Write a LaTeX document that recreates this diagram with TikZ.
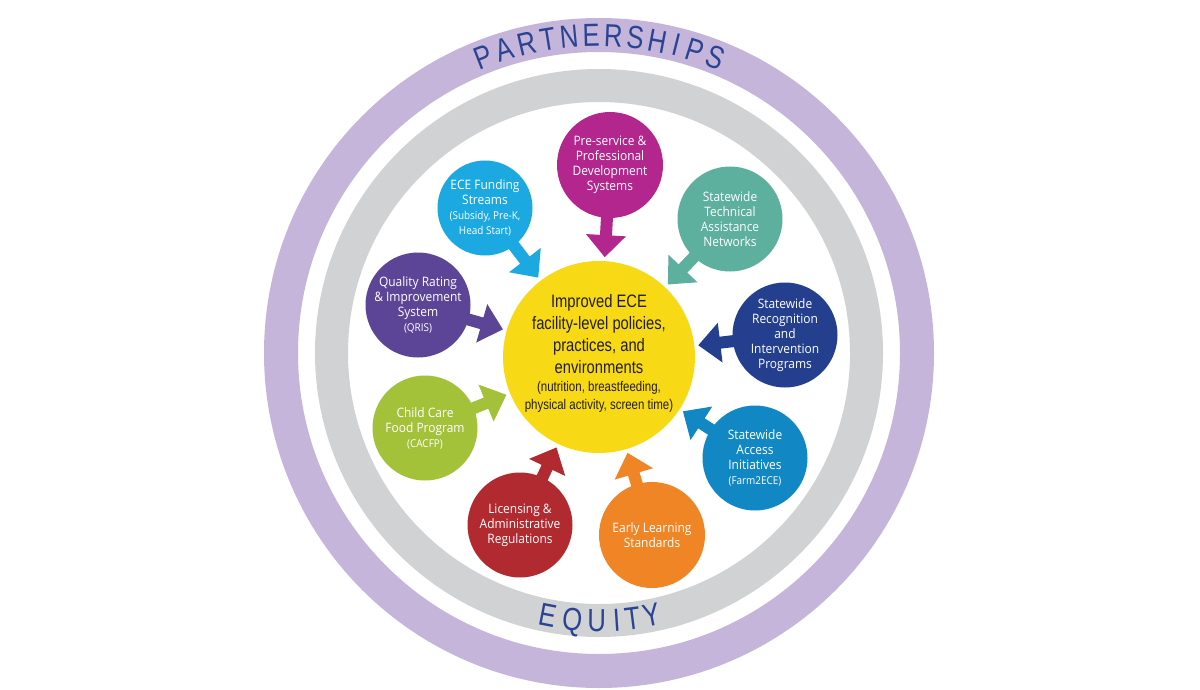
\documentclass[tikz,border=0pt]{standalone}
\usepackage{fontspec}
\setmainfont{Open Sans}
\newfontfamily\satfont{Open Sans}[FakeStretch=0.92]
\newfontfamily\ctrfont{Liberation Sans}[FakeStretch=0.82]
\newfontfamily\ringfont{Liberation Sans}[FakeStretch=0.80]
\usetikzlibrary{calc}
\pgfdeclarelayer{bg}
\pgfdeclarelayer{arrows}
\pgfsetlayers{bg,arrows,main}
\definecolor{ringP}{HTML}{C5B5DA}
\definecolor{ringG}{HTML}{D1D2D3}
\definecolor{txtB}{HTML}{2A4494}
\definecolor{cYel}{HTML}{F7D916}
\definecolor{cMag}{HTML}{B2268D}
\definecolor{cCyan}{HTML}{1CA9E1}
\definecolor{cTeal}{HTML}{5DB09E}
\definecolor{cNavy}{HTML}{233F8E}
\definecolor{cAcc}{HTML}{1187C3}
\definecolor{cOrg}{HTML}{EF8525}
\definecolor{cRed}{HTML}{B02A2F}
\definecolor{cGrn}{HTML}{A4C13A}
\definecolor{cPur}{HTML}{5C4597}
\definecolor{cTxt}{HTML}{231F20}
\newcommand{\feed}[2]{%
  \coordinate (#1-b) at ($(ctr.center)!122pt!(#1.center)$);
  \coordinate (#1-t) at ($(ctr.center)!100pt!(#1.center)$);
  \fill[#2] ($(#1.center)!6pt!90:(#1-b)$) -- ($(#1-b)!6pt!-90:(#1.center)$)
    -- ($(#1-b)!20pt!-90:(#1.center)$) -- (#1-t)
    -- ($(#1-b)!20pt!90:(#1.center)$) -- ($(#1-b)!6pt!90:(#1.center)$)
    -- ($(#1.center)!6pt!-90:(#1-b)$) -- cycle;}
\newcommand{\sm}{\fontsize{10.8}{13}\selectfont}
\tikzset{
  sat/.style={circle, inner sep=0pt, minimum size=105pt, text=white, align=center,
    font=\satfont\fontsize{13}{15}\selectfont},
  ringletter/.style={font=\ringfont\fontsize{32}{32}\selectfont, text=txtB,
    inner sep=0pt, text height=23pt, text depth=0pt, anchor=center},
}
\begin{document}
\begin{tikzpicture}[x=1pt,y=-1pt]
\begin{pgfonlayer}{bg}
\fill[white] (0,0) rectangle (1200,690);
\end{pgfonlayer}
\useasboundingbox (0,0) rectangle (1200,690);
\coordinate (o) at (599,353);
\draw[ringP, line width=34pt] (o) circle[radius=318pt];
\draw[ringG, line width=33pt] (o) circle[radius=267.5pt];
% ring texts
\foreach \l/\a [count=\i] in {P/-21.4, A/-17.3, R/-13.2, T/-9.3, N/-5.4, E/-1.4, R/2.6, S/6.6, H/10.7, I/14.1, P/17.5, S/21.6}
  \node[ringletter, rotate=-\a] (pl\i) at ($(o)+(90-\a:318pt)$) {\l};
\foreach \l/\a [count=\i] in {E/-11.0, Q/-5.7, U/-0.5, I/3.8, T/7.2, Y/11.3}
  \node[ringletter, rotate=\a] (eq\i) at ($(o)+(-90+\a:267pt)$) {\l};
% centre
\node[circle, fill=cYel, minimum size=192pt, inner sep=0pt] (ctr) at (599,357) {};
\node[align=center, text=cTxt, font=\ctrfont\fontsize{18}{22}\selectfont] (ctrtxt) at (599,353)
  {Improved ECE\\facility-level policies,\\practices, and\\environments\\[-4pt]
   {\fontsize{14}{16}\selectfont(nutrition, breastfeeding,}\\[-4pt]
   {\fontsize{14}{16}\selectfont physical activity, screen time)}};
% satellites
\node[sat, fill=cMag, minimum size=106pt] (pre) at (610,165) {Pre-service \&\\Professional\\Development\\Systems};
\node[sat, fill=cCyan, minimum size=95pt] (fund) at (485,208) {ECE Funding\\Streams\\{\sm(Subsidy, Pre-K,}\\{\sm Head Start)}};
\node[sat, fill=cTeal] (tech) at (730,219) {Statewide\\Technical\\Assistance\\Networks};
\node[sat, fill=cNavy] (recog) at (785,335) {Statewide\\Recognition\\and\\Intervention\\Programs};
\node[sat, fill=cAcc] (acc) at (755,458) {Statewide\\Access\\Initiatives\\{\sm(Farm2ECE)}};
\node[sat, fill=cOrg, minimum size=106pt] (early) at (652,535) {Early Learning\\Standards};
\node[sat, fill=cRed] (lic) at (520,525) {Licensing \&\\Administrative\\Regulations};
\node[sat, fill=cGrn] (food) at (425,428) {Child Care\\Food Program\\{\sm(CACFP)}};
\node[sat, fill=cPur] (qris) at (418,305) {Quality Rating\\\& Improvement\\System\\{\sm(QRIS)}};
\begin{pgfonlayer}{arrows}
\feed{pre}{cMag}
\feed{fund}{cCyan}
\feed{tech}{cTeal}
\feed{recog}{cNavy}
\feed{acc}{cAcc}
\feed{early}{cOrg}
\feed{lic}{cRed}
\feed{food}{cGrn}
\feed{qris}{cPur}
\end{pgfonlayer}
\end{tikzpicture}
\end{document}
